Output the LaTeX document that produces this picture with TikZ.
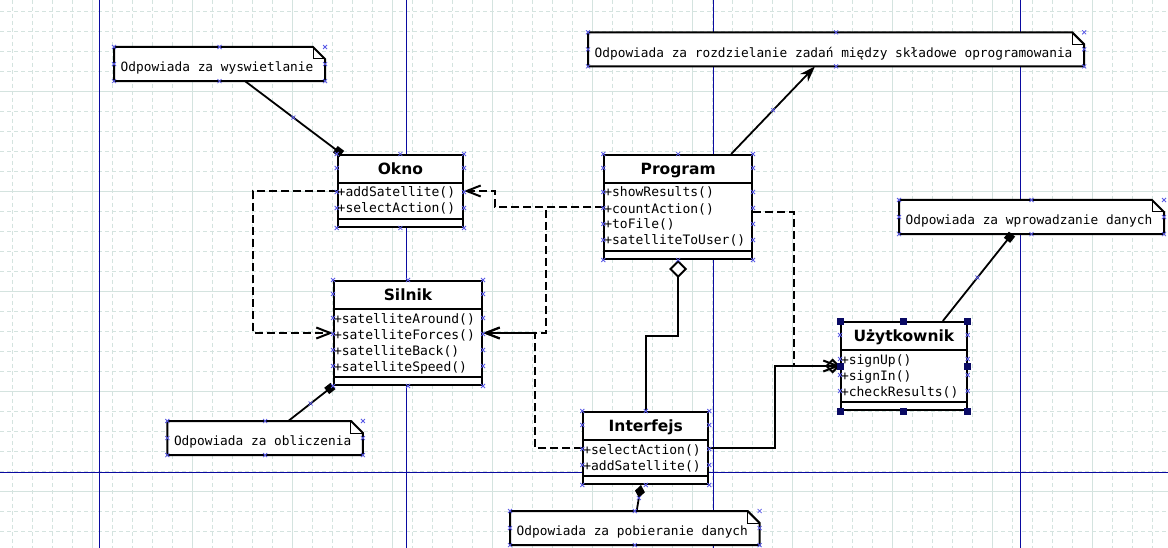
\documentclass[tikz,border=0pt]{standalone}
\usepackage{fontspec}
\setmainfont{DejaVu Sans}
\setmonofont{DejaVu Sans Mono}
\usetikzlibrary{shapes.multipart,arrows.meta,backgrounds}
\definecolor{gridcol}{RGB}{212,227,223}
\definecolor{pagecol}{RGB}{10,10,160}
\definecolor{markcol}{RGB}{90,90,230}
\definecolor{handlecol}{RGB}{10,10,100}
\newcommand\umlname[1]{{\rmfamily\bfseries\fontsize{15.5}{18}\selectfont\rule[-6.4pt]{0pt}{24pt}#1}}
\newcommand\umlop[1]{\rule[-4pt]{0pt}{16pt}#1}
\begin{document}
\begin{tikzpicture}
[x=1pt, y=-1pt,
 umlclass/.style={rectangle split, rectangle split parts=3, rectangle split part align={center,left,left},
   draw, line width=2pt, fill=white, anchor=north west, inner xsep=0pt, inner ysep=1pt, align=left,
   font=\ttfamily\fontsize{13}{16}\selectfont},
 umlnote/.style={anchor=north west, inner sep=0pt, text height=24.6pt, text depth=9.1pt,
   font=\ttfamily\fontsize{12.8}{15}\selectfont,
   execute at begin node=\hspace*{6.5pt}, execute at end node=\hspace*{11.5pt}},
 noteframe/.style={line width=2pt, fill=white, line join=miter},
 dep/.style={line width=2pt, dash pattern=on 8pt off 4pt, -{Straight Barb[length=14pt,width=11pt]}},
 aggr/.style={line width=2pt},
 noteline/.style={line width=1.8pt},
 gridline/.style={gridcol, line width=1pt},
 pageline/.style={pagecol, line width=1.2pt},
 anchorcross/.style={markcol, line width=0.8pt},
 selhandle/.style={fill=handlecol}]
\useasboundingbox (0,0) rectangle (1168,548);

% grid and page borders
\begin{scope}[on background layer]
\fill[white] (0,0) rectangle (1168,548);
\foreach \x in {12.7,32.7,...,1168} \draw[gridline, dash pattern=on 4pt off 3pt] (\x,0) -- (\x,548);
\foreach \y in {11.3,31.3,...,548} \draw[gridline, dash pattern=on 4pt off 3pt] (0,\y) -- (1168,\y);
\foreach \x in {92.7,192.7,...,1168} \draw[gridline] (\x,0) -- (\x,548);
\foreach \y in {91.3,191.3,...,548} \draw[gridline] (0,\y) -- (1168,\y);
\foreach \x in {99.3,406.3,713.3,1020.3} \draw[pageline] (\x,0) -- (\x,548);
\draw[pageline] (0,472.3) -- (1168,472.3);
\end{scope}

% classes
\node[umlclass, minimum width=125.3pt] (Okno) at (336.7,154)
  {\umlname{Okno}\nodepart{two}\umlop{+addSatellite()}\\\umlop{+selectAction()}\nodepart{three}\rule{0pt}{4pt}};
\node[umlclass, minimum width=147.7pt] (Program) at (603.3,154)
  {\umlname{Program}\nodepart{two}\umlop{+showResults()}\\\umlop{+countAction()}\\\umlop{+toFile()}\\\umlop{+satelliteToUser()}\nodepart{three}\rule{0pt}{4pt}};
\node[umlclass, minimum width=148pt] (Silnik) at (333,280)
  {\umlname{Silnik}\nodepart{two}\umlop{+satelliteAround()}\\\umlop{+satelliteForces()}\\\umlop{+satelliteBack()}\\\umlop{+satelliteSpeed()}\nodepart{three}\rule{0pt}{4pt}};
\node[umlclass, minimum width=125pt] (Interfejs) at (582.3,411)
  {\umlname{Interfejs}\nodepart{two}\umlop{+selectAction()}\\\umlop{+addSatellite()}\nodepart{three}\rule{0pt}{4pt}};
\node[umlclass, minimum width=125.7pt] (Uzytkownik) at (840,321)
  {\umlname{Użytkownik}\nodepart{two}\umlop{+signUp()}\\\umlop{+signIn()}\\\umlop{+checkResults()}\nodepart{three}\rule{0pt}{4pt}};

% notes
\node[umlnote] (noteOkno) at (114,47) {Odpowiada za wyswietlanie};
\node[umlnote] (noteProgram) at (588,32.3) {Odpowiada za rozdzielanie zadań między składowe oprogramowania};
\node[umlnote] (noteUzytkownik) at (899,200) {Odpowiada za wprowadzanie danych};
\node[umlnote] (noteSilnik) at (167.3,421) {Odpowiada za obliczenia};
\node[umlnote] (noteInterfejs) at (510,511) {Odpowiada za pobieranie danych};

\begin{scope}[on background layer]
\foreach \n in {noteOkno,noteProgram,noteSilnik,noteInterfejs,noteUzytkownik} {
  \filldraw[noteframe] (\n.north west) -- ([xshift=-12pt]\n.north east) -- ([yshift=-12pt]\n.north east)
    -- (\n.south east) -- (\n.south west) -- cycle;
  \draw[line width=1pt] ([xshift=-12pt]\n.north east) |- ([yshift=-12pt]\n.north east);
}
\end{scope}

% aggregations
\draw[aggr, {Diamond[fill=white,length=18pt,width=18pt]}-] (Program.south) -- ++(0,76) -| (Interfejs.north);
\draw[aggr, -{Diamond[open,length=15pt,width=15pt]}] (Interfejs.east) -- ++(66,0) |- (Uzytkownik.west);

% dependencies
\draw[dep] (Okno.west) -- ++(-84,0) |- (Silnik.west);
\draw[dep] (Program.west) -- ++(-108,0) |- (Okno.east);
\draw[dep] (Program.west) -- ++(-57,0) |- (Silnik.east);
\draw[dep] (Interfejs.west) -- ++(-47,0) |- (Silnik.east);
\draw[dep] ([yshift=-5pt]Program.east) -- ++(41,0) |- (Uzytkownik.west);

% note anchors
\draw[noteline, -{Square[length=8pt,width=8pt]}] ([xshift=131pt]noteOkno.south west)
  -- coordinate[midway] (midOkno) ([xshift=5pt]Okno.north west);
\draw[noteline, -{Stealth[length=16pt,width=11pt]}] ([xshift=53pt]Program.north)
  -- coordinate[midway] (midProgram) ([xshift=227pt]noteProgram.south west);
\draw[noteline, -{Square[length=8pt,width=8pt]}] ([xshift=121pt]noteSilnik.north west)
  -- coordinate[midway] (midSilnik) (Silnik.south west);
\draw[noteline, -{Diamond[length=13pt,width=10pt]}] ([xshift=126.7pt]noteInterfejs.north west)
  -- coordinate[midway] (midInterfejs) ([xshift=-4.8pt]Interfejs.south);
\draw[noteline, -{Square[length=8pt,width=8pt]}] ([xshift=39pt]Uzytkownik.north)
  -- coordinate[midway] (midUzytkownik) ([xshift=113pt]noteUzytkownik.south west);

% anchor crosses
\foreach \n in {noteOkno,noteProgram,noteSilnik,noteInterfejs,noteUzytkownik}
  \foreach \a in {north west,north,north east,west,east,south west,south,south east}
    \draw[anchorcross] (\n.\a) +(-2,-2) -- +(2,2) +(-2,2) -- +(2,-2);
\foreach \m in {midOkno,midProgram,midSilnik,midInterfejs,midUzytkownik}
  \draw[anchorcross] (\m) +(-2,-2) -- +(2,2) +(-2,2) -- +(2,-2);
\foreach \c/\rows in {Okno/2,Program/4,Silnik/4,Interfejs/2,Uzytkownik/3} {
  \foreach \a in {north west,north,north east,south west,south,south east}
    \draw[anchorcross] (\c.\a) +(-2,-2) -- +(2,2) +(-2,2) -- +(2,-2);
  \foreach \k in {0,...,\rows} {
    \pgfmathsetmacro\dy{\k==0 ? 14 : 22+16*\k}
    \draw[anchorcross] ([yshift=-\dy pt]\c.north west) +(-2,-2) -- +(2,2) +(-2,2) -- +(2,-2);
    \draw[anchorcross] ([yshift=-\dy pt]\c.north east) +(-2,-2) -- +(2,2) +(-2,2) -- +(2,-2);
  }
}
\foreach \a in {north west,north,north east,west,east,south west,south,south east}
  \fill[selhandle] (Uzytkownik.\a) +(-3.5,-3.5) rectangle +(3.5,3.5);
\end{tikzpicture}
\end{document}
